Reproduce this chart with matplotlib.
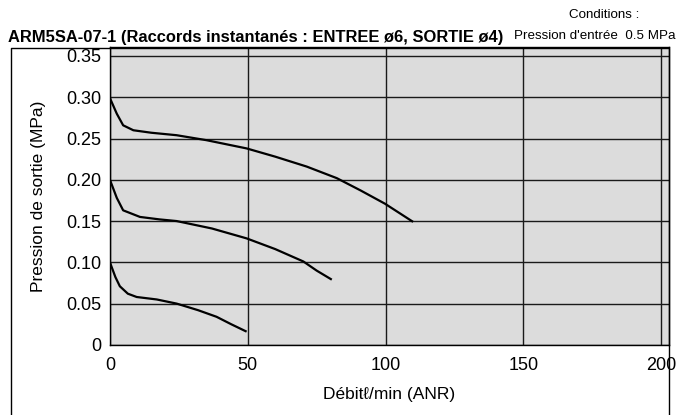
import matplotlib.pyplot as plt
from matplotlib.lines import Line2D

plt.rcParams['font.family'] = ['Liberation Sans', 'DejaVu Sans']

# debit (l/min) and outlet pressure (MPa), one curve per set pressure
flow_03 = [0, 2.5, 4.8, 8.5, 15, 24.2, 35, 49.6, 60, 71.4, 82.3, 91, 99.8, 110]
pres_03 = [0.299, 0.280, 0.266, 0.260, 0.257, 0.254, 0.248, 0.238, 0.228, 0.216, 0.202, 0.187, 0.171, 0.149]

flow_02 = [0, 2.5, 4.8, 10.9, 18, 24.2, 37, 49.6, 60, 70.2, 75, 80.5]
pres_02 = [0.200, 0.178, 0.163, 0.155, 0.152, 0.150, 0.141, 0.129, 0.116, 0.101, 0.090, 0.079]

flow_01 = [0, 2, 3.6, 6.5, 9.7, 17, 24.2, 32, 38.7, 44, 49.6]
pres_01 = [0.100, 0.082, 0.071, 0.062, 0.058, 0.055, 0.050, 0.042, 0.034, 0.025, 0.016]

x_ticks = [0, 50, 100, 150, 200]
y_ticks = [0, 0.05, 0.10, 0.15, 0.20, 0.25, 0.30, 0.35]
y_labels = ['0', '0.05', '0.10', '0.15', '0.20', '0.25', '0.30', '0.35']

fig = plt.figure(figsize=(6.87, 4.15), dpi=100)
ax = fig.add_axes([0.160, 0.169, 0.814, 0.718])
ax.set_facecolor('#dcdcdc')

for fl, pr in [(flow_03, pres_03), (flow_02, pres_02), (flow_01, pres_01)]:
    ax.plot(fl, pr, color='black', lw=1.6, solid_capstyle='butt', zorder=3)

ax.set_xlim(0, 202.9)
ax.set_ylim(0, 0.361)
ax.set_xticks(x_ticks)
ax.set_yticks(y_ticks)
ax.set_yticklabels(y_labels)
ax.tick_params(length=0, labelsize=13)
ax.tick_params(axis='x', pad=9)
ax.tick_params(axis='y', pad=6)
ax.grid(True, color='#1a1a1a', lw=1.0, zorder=1)
ax.set_axisbelow(True)
for s in ax.spines.values():
    s.set_color('black')
    s.set_linewidth(1.0)

ax.set_xlabel('Débitℓ/min (ANR)', fontsize=12.5, labelpad=9)
ax.set_ylabel('Pression de sortie (MPa)', fontsize=12.5, labelpad=15)

# outer frame
W, H = 687, 415
fig.add_artist(Line2D([11 / W, 11 / W, 669 / W, 669 / W],
                      [0, 1 - 48 / H, 1 - 48 / H, 0], color='black', lw=1.0))

fig.text(8 / W, 1 - 42 / H, 'ARM5SA-07-1 (Raccords instantanés : ENTREE ø6, SORTIE ø4)',
         fontsize=11.9, fontweight='bold', va='baseline')
fig.text(569 / W, 1 - 18 / H, 'Conditions :', fontsize=9.6, va='baseline')
fig.text(514 / W, 1 - 39 / H, "Pression d'entrée  0.5 MPa", fontsize=9.6, va='baseline')

fig.savefig('out.png', dpi=100)
